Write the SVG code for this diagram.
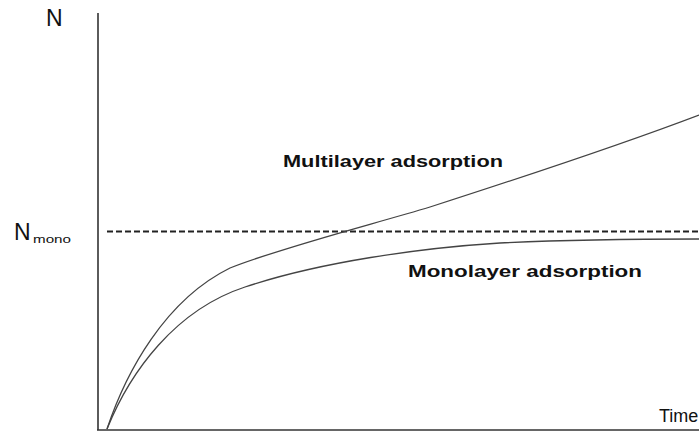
<svg xmlns="http://www.w3.org/2000/svg" width="699" height="438" viewBox="0 0 699 438">
<style>
.axis{stroke:#333;stroke-width:1.6;fill:none}
.curve{stroke:#444;stroke-width:1.3;fill:none}
.dash{stroke:#222;stroke-width:2;stroke-dasharray:6 3;fill:none}
.lbl{font-family:"Liberation Sans",Arial,sans-serif;fill:#111}
.b{font-weight:bold}
</style>
<rect width="699" height="438" fill="#fff"/>
<g id="axes">
<line class="axis" x1="98" y1="13" x2="98" y2="430"/>
<line class="axis" x1="97" y1="430" x2="699" y2="430"/>
</g>
<g id="connectors">
<line class="dash" x1="107" y1="231.5" x2="699" y2="231.5"/>
<path id="multilayer" class="curve" d="M107,429 C126,372 165,300 230,268 C280,248 370,225 430,207 C520,178 620,145 699,115"/>
<path id="monolayer" class="curve" d="M107,429 C130,372 175,310 245,287 C320,262 420,248 500,243 C580,239 650,239 699,239"/>
</g>
<g id="labels">
<text class="lbl" x="46" y="26" font-size="23">N</text>
<text class="lbl" x="14" y="240" font-size="23">N</text>
<text class="lbl" x="33" y="243" font-size="11" textLength="38" lengthAdjust="spacingAndGlyphs">mono</text>
<text class="lbl b" x="283" y="167" font-size="17" textLength="220" lengthAdjust="spacingAndGlyphs">Multilayer adsorption</text>
<text class="lbl b" x="408" y="277" font-size="17" textLength="234" lengthAdjust="spacingAndGlyphs">Monolayer adsorption</text>
<text class="lbl" x="659" y="422" font-size="18">Time</text>
</g>
</svg>
